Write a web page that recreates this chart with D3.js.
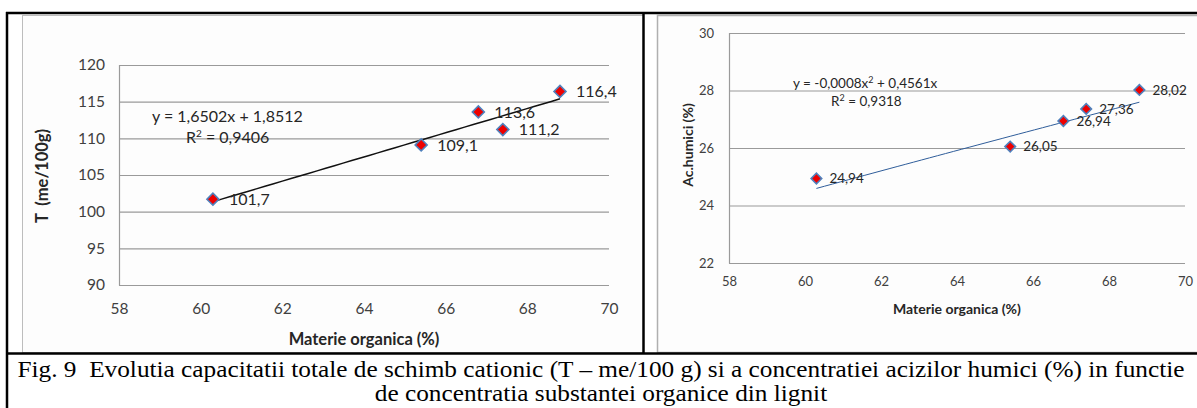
<!DOCTYPE html>
<html>
<head>
<meta charset="utf-8">
<script src="https://cdn.jsdelivr.net/npm/d3@7"></script>
<style>
  body { margin: 0; background: #fff; }
  svg { display: block; }
</style>
</head>
<body>
<svg id="fig"></svg>
<script>
// data
const organic = [60.3, 65.4, 66.8, 67.4, 68.8];
const capacity = [101.7, 109.1, 113.6, 111.2, 116.4];
const humic = [24.94, 26.05, 26.94, 27.36, 28.02];

const xTicks = [58, 60, 62, 64, 66, 68, 70];
const leftYTicks = [90, 95, 100, 105, 110, 115, 120];
const rightYTicks = [22, 24, 26, 28, 30];

// trend lines as given in the chart
const linCoef = [1.6502, 1.8512];          // y = a x + b
const polyCoef = [-0.0008, 0.4561];        // y = a x^2 + b x

const captionLines = [
  'Fig. 9  Evolutia capacitatii totale de schimb cationic (T \u2013 me/100 g) si a concentratiei acizilor humici (%) in functie',
  'de concentratia substantei organice din lignit'
];

const width = 1197, height = 408;
const svg = d3.select('#fig').attr('width', width).attr('height', height);

const comma = v => String(v).replace('.', ',');
const sans = 'Lato, "Open Sans", sans-serif';

// chart frames (light gray) and table borders (black)
svg.append('rect').attr('x', 22.5).attr('y', 15.5).attr('width', 621).attr('height', 337)
  .attr('fill', '#fdfdfd').attr('stroke', '#bdbdbd');
svg.append('rect').attr('x', 657.5).attr('y', 15.5).attr('width', 560).attr('height', 337)
  .attr('fill', '#fdfdfd').attr('stroke', '#b0b0b0').attr('stroke-width', 1.5);

const border = svg.append('g').attr('stroke', '#000').attr('stroke-width', 2.5);
border.append('line').attr('x1', 6).attr('x2', width).attr('y1', 13).attr('y2', 13);
border.append('line').attr('x1', 6).attr('x2', width).attr('y1', 353.5).attr('y2', 353.5);
border.append('line').attr('x1', 7).attr('x2', 7).attr('y1', 12).attr('y2', height);
border.append('line').attr('x1', 643.5).attr('x2', 643.5).attr('y1', 12).attr('y2', 354);

//draws one scatter chart with its trend line
function drawChart(o) {
  const x = d3.scaleLinear().domain([58, 70]).range([o.left, o.right]);
  const y = d3.scaleLinear().domain(o.yDomain).range([o.bottom, o.top]);
  const g = svg.append('g');

  // gridlines
  g.append('g').selectAll('line').data(o.yTicks).enter().append('line')
    .attr('x1', o.left).attr('x2', o.right)
    .attr('y1', d => y(d) + 0.5).attr('y2', d => y(d) + 0.5)
    .attr('stroke', '#9a9a9a').attr('stroke-width', 1.2);
  g.append('line').attr('x1', o.left + 0.5).attr('x2', o.left + 0.5)
    .attr('y1', o.top).attr('y2', o.bottom + 0.5)
    .attr('stroke', '#9a9a9a').attr('stroke-width', 1.2);

  const yAxis = g.append('g').attr('transform', `translate(${o.left},0)`)
    .call(d3.axisLeft(y).tickValues(o.yTicks).tickSize(0).tickPadding(o.yPad));
  const xAxis = g.append('g').attr('transform', `translate(0,${o.bottom})`)
    .call(d3.axisBottom(x).tickValues(xTicks).tickSize(0).tickPadding(o.xPad));
  [yAxis, xAxis].forEach(a => {
    a.select('.domain').remove();
    a.selectAll('text').attr('fill', '#404040')
      .style('font-family', sans).style('font-size', o.tickFont + 'px');
  });

  // trend line
  const line = d3.line().x(d => x(d)).y(d => y(o.fit(d)));
  const xs = d3.range(0, 41).map(i => organic[0] + (organic[4] - organic[0]) * i / 40);
  g.append('path').datum(xs).attr('d', line).attr('fill', 'none')
    .attr('stroke', o.trendColor).attr('stroke-width', o.trendWidth);

  // markers
  const sym = d3.symbol().type(d3.symbolSquare).size(o.markerSize);
  g.append('g').selectAll('path').data(o.values).enter().append('path')
    .attr('d', sym)
    .attr('transform', (d, i) => `translate(${x(organic[i])},${y(d)}) rotate(45)`)
    .attr('fill', '#ee0000').attr('stroke', '#4f81bd').attr('stroke-width', 1.6);

  // data labels
  g.append('g').selectAll('text').data(o.values).enter().append('text')
    .attr('x', (d, i) => x(organic[i]) + o.labelDx)
    .attr('y', d => y(d))
    .attr('dy', '0.35em')
    .attr('fill', '#262626')
    .style('font-family', sans).style('font-size', o.labelFont + 'px')
    .text(d => comma(d));

  // equation
  o.equation.forEach(e => {
    g.append('text').attr('x', e.x).attr('y', e.y).attr('fill', '#262626')
      .style('font-family', sans).style('font-size', o.labelFont + 'px')
      .html(e.text);
  });

  // axis titles
  g.append('text').attr('x', (o.left + o.right) / 2 + o.xTitleShift).attr('y', o.xTitleY)
    .attr('text-anchor', 'middle').attr('font-weight', 'bold').attr('fill', '#262626')
    .style('font-family', sans).style('font-size', o.titleFont + 'px')
    .text('Materie organica (%)');
  g.append('text').attr('transform', `translate(${o.yTitleX},${o.yTitleY}) rotate(-90)`)
    .attr('text-anchor', 'middle').attr('font-weight', 'bold').attr('fill', '#262626')
    .style('font-family', sans).style('font-size', o.titleFont + 'px')
    .style('white-space', 'pre')
    .text(o.yTitle);
}

drawChart({
  left: 119, right: 609, top: 65, bottom: 285,
  yDomain: [90, 120], yTicks: leftYTicks, values: capacity,
  fit: v => linCoef[0] * v + linCoef[1],
  trendColor: '#111', trendWidth: 1.5, markerSize: 72,
  yPad: 14, xPad: 18, tickFont: 15.5, labelFont: 16, titleFont: 16.5, labelDx: 16,
  equation: [
    { x: 152, y: 122, text: 'y = 1,6502x + 1,8512' },
    { x: 186, y: 143, text: 'R<tspan font-size="10" dy="-6">2</tspan><tspan dy="6"> = 0,9406</tspan>' }
  ],
  xTitleY: 345, xTitleShift: 0, yTitleX: 48, yTitleY: 176, yTitle: 'T  (me/100g)'
});

drawChart({
  left: 729, right: 1185, top: 33, bottom: 263,
  yDomain: [22, 30], yTicks: rightYTicks, values: humic,
  fit: v => polyCoef[0] * v * v + polyCoef[1] * v,
  trendColor: '#2f5d9a', trendWidth: 1, markerSize: 56,
  yPad: 15, xPad: 14, tickFont: 13, labelFont: 13.5, titleFont: 14, labelDx: 13,
  equation: [
    { x: 793, y: 88, text: 'y = -0,0008x<tspan font-size="9" dy="-5">2</tspan><tspan dy="5"> + 0,4561x</tspan>' },
    { x: 831, y: 106, text: 'R<tspan font-size="9" dy="-5">2</tspan><tspan dy="5"> = 0,9318</tspan>' }
  ],
  xTitleY: 314, xTitleShift: 0, yTitleX: 693, yTitleY: 145, yTitle: 'Ac.humici (%)'
});

// caption, stretched so the first line spans the table width like the original
const caption = svg.append('g').selectAll('text').data(captionLines).enter().append('text')
  .attr('x', 601).attr('y', (d, i) => 377 + i * 24)
  .attr('text-anchor', 'middle').attr('fill', '#000')
  .style('white-space', 'pre')
  .style('font-family', '"Liberation Serif", "Times New Roman", serif').style('font-size', '24px')
  .text(d => d);
const natural = caption.nodes().map(n => n.getComputedTextLength());
const stretch = 1167 / natural[0];
caption.attr('textLength', (d, i) => natural[i] * stretch).attr('lengthAdjust', 'spacingAndGlyphs');
</script>
</body>
</html>
